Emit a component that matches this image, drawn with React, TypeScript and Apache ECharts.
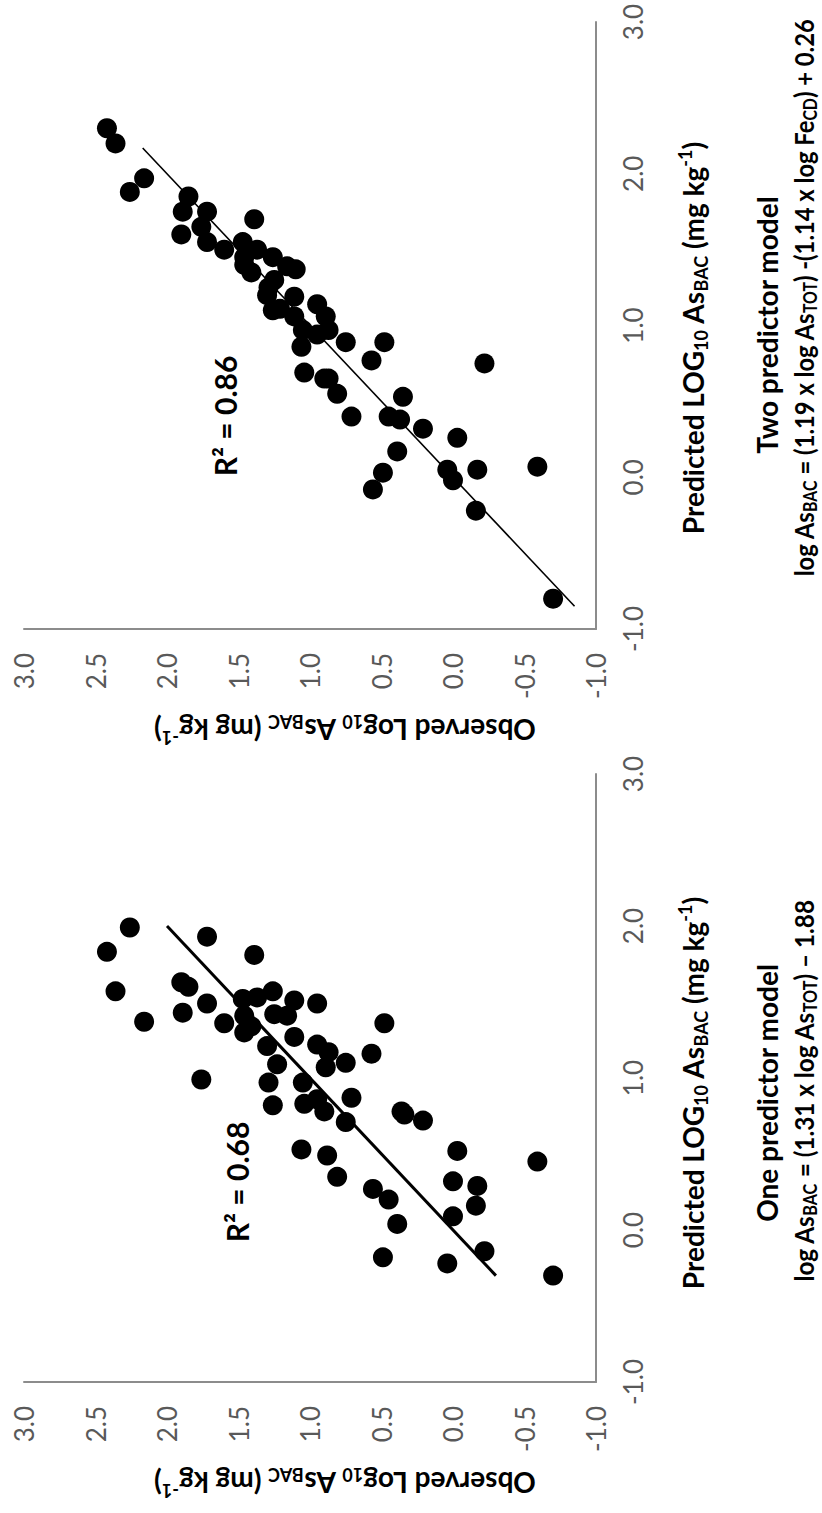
import React, { useEffect, useRef } from "react";
import * as echarts from "echarts";

// One predictor model: [predicted, observed]
const onePredicted = [1.99, 1.83, 1.93, 1.81, 1.57, 1.37, 1.63, 1.6, 1.43, 1.49, 1.36, 1.52, 1.53, 1.57, 1.41, 1.34, 1.3, 1.42, 1.41, 1.51, 1.27, 1.21, 1.09, 0.99, 0.97, 0.82, 1.49, 1.36, 1.22, 1.17, 1.16, 1.1, 1.07, 0.97, 0.87, 0.86, 0.83, 0.78, 0.78, 0.76, 0.71, 0.72, 0.53, 0.52, 0.49, 0.45, 0.35, 0.32, 0.29, 0.27, 0.2, 0.16, 0.09, 0.04, -0.14, -0.18, -0.22, -0.3];
const oneObserved = [2.26, 2.42, 1.72, 1.39, 2.36, 2.16, 1.9, 1.85, 1.89, 1.72, 1.6, 1.47, 1.37, 1.26, 1.46, 1.41, 1.46, 1.25, 1.16, 1.11, 1.11, 1.3, 1.23, 1.76, 1.29, 1.26, 0.95, 0.48, 0.95, 0.87, 0.57, 0.75, 0.89, 1.05, 0.71, 0.95, 1.04, 0.9, 0.36, 0.34, 0.75, 0.21, 1.06, -0.03, 0.88, -0.59, 0.81, 0.0, -0.17, 0.56, 0.45, -0.16, 0.0, 0.39, -0.22, 0.49, 0.04, -0.7];

// Two predictor model: [predicted, observed]
const twoPredicted = [2.3, 2.2, 1.88, 1.97, 1.6, 1.75, 1.85, 1.65, 1.55, 1.75, 1.5, 1.55, 1.4, 1.45, 1.35, 1.7, 1.5, 1.2, 1.25, 1.45, 1.1, 1.3, 1.39, 1.37, 1.19, 1.11, 1.06, 1.14, 1.06, 0.97, 0.94, 0.97, 0.89, 0.89, 0.86, 0.77, 0.75, 0.69, 0.65, 0.65, 0.55, 0.53, 0.4, 0.4, 0.38, 0.32, 0.26, 0.17, 0.03, 0.05, -0.02, 0.05, 0.07, -0.08, -0.22, -0.8];
const twoObserved = [2.42, 2.36, 2.26, 2.16, 1.9, 1.89, 1.85, 1.76, 1.72, 1.72, 1.6, 1.47, 1.46, 1.46, 1.41, 1.39, 1.37, 1.3, 1.29, 1.26, 1.26, 1.25, 1.16, 1.1, 1.11, 1.21, 1.11, 0.95, 0.89, 1.05, 0.95, 0.87, 0.75, 0.48, 1.06, 0.57, -0.22, 1.04, 0.9, 0.87, 0.81, 0.35, 0.71, 0.45, 0.37, 0.21, -0.03, 0.39, 0.49, 0.04, 0.0, -0.17, -0.59, 0.56, -0.16, -0.7];

// 1:1 lines
const oneLine = [-0.3, 2.0];
const twoLine = [-0.85, 2.17];

const axisMin = -1;
const axisMax = 3;
const observedStep = 0.5;
const predictedStep = 1;

const FONT = "Lato, 'Liberation Sans', sans-serif";

const pairs = (xs: number[], ys: number[]) => xs.map((x, i) => [x, ys[i]]);

function richSet(size: number) {
  const sub = Math.round(size * 0.65);
  return {
    b: { fontSize: size, fontWeight: "bold", fontFamily: FONT, color: "#000", lineHeight: size + 6 },
    s: { fontSize: sub, fontWeight: "bold", fontFamily: FONT, color: "#000", lineHeight: sub, verticalAlign: "bottom" },
    p: { fontSize: sub, fontWeight: "bold", fontFamily: FONT, color: "#000", lineHeight: sub, verticalAlign: "top" },
  };
}

function txt(x: number, y: number, text: string, size: number, rot = 0, sx = 1) {
  return {
    type: "text",
    x,
    y,
    rotation: rot,
    scaleX: sx,
    style: {
      text,
      rich: richSet(size),
      align: "center",
      verticalAlign: "middle",
      fontFamily: FONT,
      fontSize: size,
      fontWeight: "bold",
      fill: "#000",
    },
  };
}

export default function App() {
  const ref = useRef<HTMLDivElement>(null);
  useEffect(() => {
    const chart = echarts.init(ref.current!, null, { renderer: "svg" });
    const grids = [
      { left: 131, top: 24, width: 608, height: 572 },
      { left: 884, top: 24, width: 607, height: 572 },
    ];
    const label = {
      margin: 24,
      fontFamily: FONT,
      fontSize: 26,
      color: "#595959",
      formatter: (v: number) => v.toFixed(1),
    };
    const mkAxis = (gi: number, step: number) => ({
      type: "value",
      gridIndex: gi,
      min: axisMin,
      max: axisMax,
      interval: step,
      axisLine: { show: true, onZero: false, lineStyle: { color: "#8c8c8c", width: 2 } },
      axisTick: { show: false },
      splitLine: { show: false },
      axisLabel: label,
    });
    const option = {
      animation: false,
      backgroundColor: "#fff",
      grid: grids,
      xAxis: [mkAxis(0, predictedStep), mkAxis(1, predictedStep)],
      yAxis: [mkAxis(0, observedStep), mkAxis(1, observedStep)],
      series: [
        {
          type: "line",
          xAxisIndex: 0,
          yAxisIndex: 0,
          data: oneLine.map((v) => [v, v]),
          symbol: "none",
          lineStyle: { color: "#000", width: 3 },
          z: 1,
        },
        {
          type: "scatter",
          xAxisIndex: 0,
          yAxisIndex: 0,
          data: pairs(onePredicted, oneObserved),
          symbolSize: 20,
          itemStyle: { color: "#000", opacity: 1 },
          z: 2,
        },
        {
          type: "line",
          xAxisIndex: 1,
          yAxisIndex: 1,
          data: twoLine.map((v) => [v, v]),
          symbol: "none",
          lineStyle: { color: "#000", width: 1.6 },
          z: 1,
        },
        {
          type: "scatter",
          xAxisIndex: 1,
          yAxisIndex: 1,
          data: pairs(twoPredicted, twoObserved),
          symbolSize: 20,
          itemStyle: { color: "#000", opacity: 1 },
          z: 2,
        },
      ],
      graphic: [
        txt(30, 345, "{b|Observed Log}{s|10}{b| As}{s|BAC}{b| (mg kg}{p|-1}{b|)}", 28, Math.PI / 2),
        txt(783, 345, "{b|Observed Log}{s|10}{b| As}{s|BAC}{b| (mg kg}{p|-1}{b|)}", 28, Math.PI / 2),
        txt(420, 693, "{b|Predicted LOG}{s|10}{b| As}{s|BAC}{b| (mg kg}{p|-1}{b|)}", 28),
        txt(1175, 693, "{b|Predicted LOG}{s|10}{b| As}{s|BAC}{b| (mg kg}{p|-1}{b|)}", 28),
        txt(420, 767, "{b|One predictor model}", 28),
        txt(1188, 767, "{b|Two predictor model}", 28),
        txt(422, 803, "{b|log As}{s|BAC}{b| = (1.31 x log As}{s|TOT}{b|) \u2013 1.88}", 27, 0, 0.9),
        txt(1215, 803, "{b|log As}{s|BAC}{b| = (1.19 x log As}{s|TOT}{b|) -(1.14 x log Fe}{s|CD}{b|) + 0.26}", 27, 0, 0.88),
        txt(331, 237, "{b|R\u00b2 = 0.68}", 30),
        txt(1097, 225, "{b|R\u00b2 = 0.86}", 30),
      ],
    };
    chart.setOption(option as any);
    return () => chart.dispose();
  }, []);
  return (
    <div
      style={{
        position: "absolute",
        left: 0,
        top: 0,
        width: 822,
        height: 1513,
        overflow: "hidden",
        background: "#fff",
      }}
    >
      <div
        ref={ref}
        style={{
          position: "absolute",
          left: 0,
          top: 0,
          width: 1513,
          height: 822,
          transformOrigin: "0 0",
          transform: "translate(0px, 1513px) rotate(-90deg)",
        }}
      />
    </div>
  );
}
